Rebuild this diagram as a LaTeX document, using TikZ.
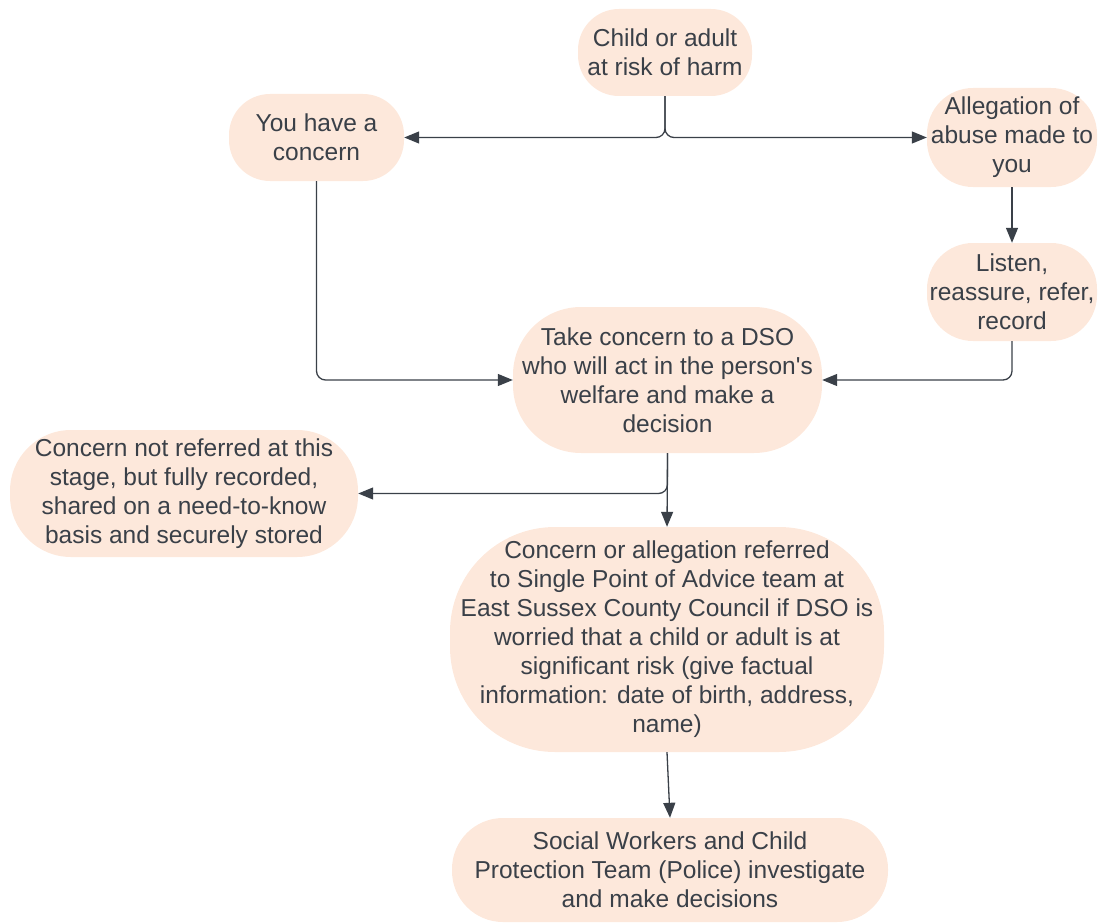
\documentclass[tikz,border=0pt]{standalone}
\usepackage{fontspec}
\setmainfont{Liberation Sans}
\usetikzlibrary{arrows.meta}
\definecolor{peach}{RGB}{253,232,219}
\definecolor{ink}{RGB}{58,64,72}
\begin{document}
\begin{tikzpicture}[x=1pt,y=-1pt,
  box/.style={fill=peach, draw=none, align=center, inner sep=0pt, text=ink,
    font=\fontsize{24.5}{29}\selectfont},
  conn/.style={draw=ink, line width=1.3pt, -{Triangle[length=15pt,width=12pt]}, rounded corners=9pt}]
\useasboundingbox (0,0) rectangle (1099,923);
\node[box, minimum width=174pt, minimum height=87pt, rounded corners=41pt] (top) at (665,52.5) {Child or adult\\at risk of harm};
\node[box, minimum width=175pt, minimum height=87pt, rounded corners=41pt] (concern) at (316.5,137.5) {You have a\\concern};
\node[box, minimum width=170pt, minimum height=99pt, rounded corners=46pt] (alleg) at (1012,137.5) {Allegation of\\abuse made to\\you};
\node[box, minimum width=170pt, minimum height=98pt, rounded corners=46pt] (listen) at (1012,292) {Listen,\\reassure, refer,\\record};
\node[box, minimum width=309pt, minimum height=146pt, rounded corners=68pt] (dso) at (667.5,380) {Take concern to a DSO\\who will act in the person\textquotesingle s\\welfare and make a\\decision};
\node[box, minimum width=348pt, minimum height=127pt, rounded corners=61pt] (notref) at (184,493.5) {Concern not referred at this\\stage, but fully recorded,\\shared on a need-to-know\\basis and securely stored};
\node[box, minimum width=434pt, minimum height=225pt, rounded corners=105pt] (ref) at (667,639.5) {Concern or allegation referred\\to Single Point of Advice team at\\East Sussex County Council if DSO is\\worried that a child or adult is at\\significant risk (give factual\\information: date of birth, address,\\name)};
\node[box, minimum width=436pt, minimum height=104pt, rounded corners=51pt] (social) at (670,870) {Social Workers and Child\\Protection Team (Police) investigate\\and make decisions};

\draw[conn] (top.south) |- (concern.east);
\draw[conn] (top.south) |- (alleg.west);
\draw[conn] (alleg.south) -- (listen.north);
\draw[conn] (concern.south) |- (dso.west);
\draw[conn] (listen.south) |- (dso.east);
\draw[conn] (dso.south) |- (notref.east);
\draw[conn] (dso.south) -- (ref.north);
\draw[conn] (ref.south) -- (social.north);
\end{tikzpicture}
\end{document}
